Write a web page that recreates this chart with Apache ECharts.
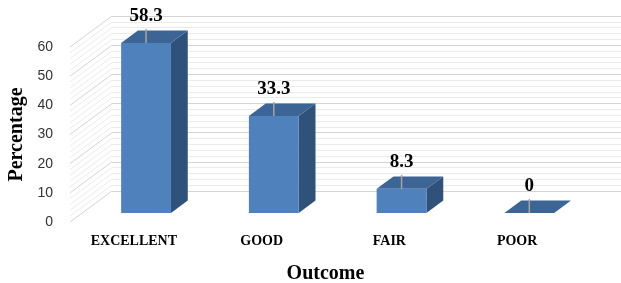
<!DOCTYPE html>
<html>
<head>
<meta charset="utf-8">
<script src="https://cdn.jsdelivr.net/npm/echarts@6/dist/echarts.min.js"></script>
<style>
html, body { margin: 0; padding: 0; background: #fff; }
#main { width: 621px; height: 283px; }
</style>
</head>
<body>
<div id="main"></div>
<script>
var categories = ['EXCELLENT', 'GOOD', 'FAIR', 'POOR'];
var values = [58.3, 33.3, 8.3, 0];
var labels = ['58.3', '33.3', '8.3', '0'];
var wallTicks = [];
for (var t = 0; t <= 60; t += 2) {
	wallTicks.push(t);
}

// depth of the 3d box (front plane -> back wall)
var depth = [42, -31];
var barFront = 0.29, barBack = 0.69;

var myChart = echarts.init(document.getElementById('main'));

var barData = [];
for (var i = 0; i < values.length; i++) {
	barData.push([i, values[i], labels[i]]);
}

option = {
	animation: false,
	grid: [{
		left: 70, right: 40, top: 47, bottom: 61,
		outerBoundsMode: 'none'
	}, {
		left: 112, right: 0, top: 16, bottom: 92,
		outerBoundsMode: 'none'
	}],
	xAxis: [{
		gridIndex: 0,
		type: 'category',
		data: categories,
		axisLine: { show: false },
		axisTick: { show: false },
		axisLabel: {
			margin: 12,
			color: '#000',
			fontFamily: 'Liberation Serif',
			fontWeight: 'bold',
			fontSize: 14
		},
		name: 'Outcome',
		nameLocation: 'middle',
		nameGap: 42,
		nameTextStyle: {
			color: '#000',
			fontFamily: 'Liberation Serif',
			fontWeight: 'bold',
			fontSize: 20
		}
	}, {
		gridIndex: 1,
		type: 'value',
		show: false
	}],
	yAxis: [{
		gridIndex: 0,
		type: 'value',
		min: 0, max: 60, interval: 10,
		axisLine: { show: false },
		axisTick: { show: false },
		splitLine: { show: false },
		axisLabel: {
			margin: 17,
			color: '#333',
			fontFamily: 'Liberation Sans',
			fontSize: 14,
			padding: [6, 0, 0, 0]
		},
		name: 'Percentage',
		nameLocation: 'middle',
		nameGap: 41,
		nameTextStyle: {
			color: '#000',
			fontFamily: 'Liberation Serif',
			fontWeight: 'bold',
			fontSize: 20
		}
	}, {
		gridIndex: 1,
		type: 'value',
		min: 0, max: 60, interval: 10,
		axisLine: { show: false },
		axisTick: { show: false },
		axisLabel: { show: false },
		splitLine: { show: true, lineStyle: { color: '#d4d4d4', width: 1 } },
		minorTick: { show: false, splitNumber: 5 },
		minorSplitLine: { show: true, lineStyle: { color: '#ebebeb', width: 1 } }
	}],
	series: [{
		// left wall
		type: 'custom',
		xAxisIndex: 0,
		yAxisIndex: 0,
		silent: true,
		clip: false,
		data: wallTicks.map(function (v) { return [0, v]; }),
		renderItem: function (params, api) {
			var v = api.value(1);
			var x = params.coordSys.x;
			var y = api.coord([0, v])[1];
			return {
				type: 'line',
				shape: { x1: x, y1: y, x2: x + depth[0], y2: y + depth[1] },
				style: { stroke: v % 10 === 0 ? '#d4d4d4' : '#ebebeb', lineWidth: 1 }
			};
		}
	}, {
		type: 'custom',
		xAxisIndex: 0,
		yAxisIndex: 0,
		clip: false,
		data: barData,
		renderItem: function (params, api) {
			var idx = api.value(0);
			var v = api.value(1);
			var base = api.coord([idx, 0]);
			var top = api.coord([idx, v]);
			var w = api.size([1, 0])[0] * 0.39;
			var ox = depth[0] * barFront, oy = depth[1] * barFront;
			var dx = depth[0] * (barBack - barFront), dy = depth[1] * (barBack - barFront);
			var cx = base[0] + ox;
			var x0 = cx - w / 2, x1 = cx + w / 2;
			var yb = base[1] + oy, yt = top[1] + oy;
			return {
				type: 'group',
				children: [{
					type: 'polygon',
					shape: { points: [[x1, yt], [x1 + dx, yt + dy], [x1 + dx, yb + dy], [x1, yb]] },
					style: { fill: '#30527a' }
				}, {
					type: 'polygon',
					shape: { points: [[x0, yt], [x0 + dx, yt + dy], [x1 + dx, yt + dy], [x1, yt]] },
					style: { fill: '#3c6494' }
				}, {
					type: 'rect',
					shape: { x: x0, y: yt, width: w, height: yb - yt },
					style: { fill: '#4f81bd' }
				}, {
					type: 'line',
					shape: { x1: cx, y1: yt - 14, x2: cx, y2: yt },
					style: { stroke: '#a6a6a6', lineWidth: 1.5 }
				}, {
					type: 'text',
					x: cx,
					y: yt - 27,
					style: {
						text: api.value(2),
						align: 'center',
						verticalAlign: 'middle',
						fill: '#000',
						font: 'bold 19px "Liberation Serif"'
					}
				}]
			};
		}
	}]
};

myChart.setOption(option);
window.onresize = myChart.resize;
</script>
</body>
</html>
